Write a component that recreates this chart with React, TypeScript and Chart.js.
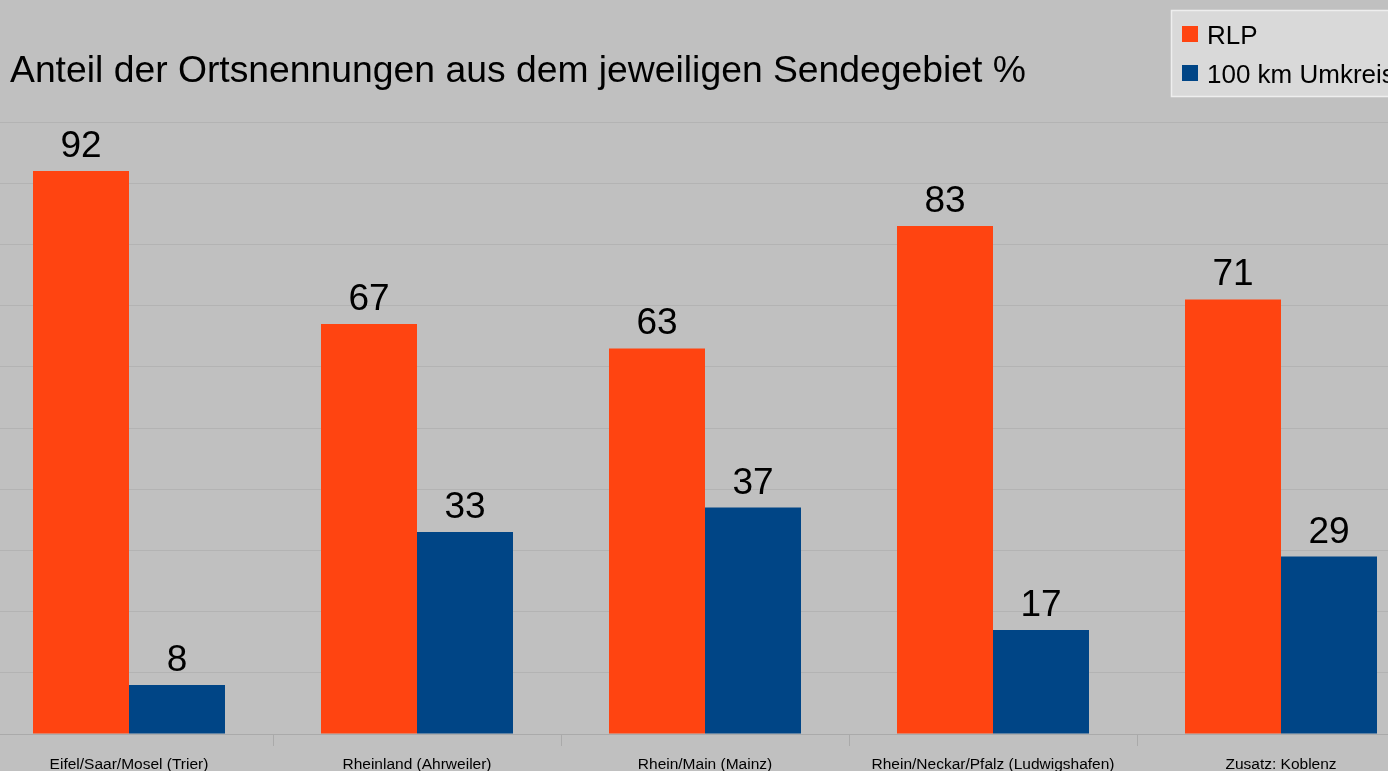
import React, { useEffect, useRef } from "react";
import { Chart, registerables } from "chart.js";

Chart.register(...registerables);

const categories = [
  "Eifel/Saar/Mosel (Trier)",
  "Rheinland (Ahrweiler)",
  "Rhein/Main (Mainz)",
  "Rhein/Neckar/Pfalz (Ludwigshafen)",
  "Zusatz: Koblenz",
];
const rlpValues = [92, 67, 63, 83, 71];
const umkreisValues = [8, 33, 37, 17, 29];
const seriesNames = ["RLP", "100 km Umkreis"];
const titleText = "Anteil der Ortsnennungen aus dem jeweiligen Sendegebiet %";

const ORANGE = "#ff4411";
const BLUE = "#004586";
const FONT = "'Liberation Sans', Arial, sans-serif";
const OFFSET = 15;

const overlayPlugin = {
  id: "overlay",
  afterDatasetsDraw(chart: any) {
    const ctx = chart.ctx;
    ctx.save();
    // data labels
    ctx.fillStyle = "#000";
    ctx.font = `37px ${FONT}`;
    ctx.textAlign = "center";
    ctx.textBaseline = "alphabetic";
    chart.data.datasets.forEach((ds: any, i: number) => {
      const meta = chart.getDatasetMeta(i);
      meta.data.forEach((bar: any, j: number) => {
        ctx.fillText(String(ds.data[j]), bar.x, bar.y - 14);
      });
    });
    // title
    ctx.textAlign = "left";
    ctx.font = `37.3px ${FONT}`;
    ctx.fillText(titleText, 10 + OFFSET, 82);
    // legend
    const lx = 1171 + OFFSET;
    const ly = 10;
    ctx.fillStyle = "#d9d9d9";
    ctx.fillRect(lx, ly, 260, 86);
    ctx.strokeStyle = "#eeeeee";
    ctx.lineWidth = 1.5;
    ctx.strokeRect(lx + 0.5, ly + 0.5, 260, 86);
    const colors = [ORANGE, BLUE];
    const rows = [44, 83];
    ctx.font = `26px ${FONT}`;
    seriesNames.forEach((name, i) => {
      ctx.fillStyle = colors[i];
      ctx.fillRect(lx + 11, rows[i] - 18, 16, 16);
      ctx.fillStyle = "#000";
      ctx.fillText(name, lx + 36, rows[i]);
    });
    ctx.restore();
  },
};

export default function App() {
  const ref = useRef<HTMLCanvasElement | null>(null);
  useEffect(() => {
    document.body.style.margin = "0";
    document.body.style.overflow = "hidden";
    const chart = new Chart(ref.current as HTMLCanvasElement, {
      type: "bar",
      data: {
        labels: categories,
        datasets: [
          { label: seriesNames[0], data: rlpValues, backgroundColor: ORANGE, borderWidth: 0 },
          { label: seriesNames[1], data: umkreisValues, backgroundColor: BLUE, borderWidth: 0 },
        ],
      },
      options: {
        responsive: false,
        animation: false,
        devicePixelRatio: 1,
        layout: { padding: { top: 122, right: 15, left: 0, bottom: 0 } },
        plugins: { legend: { display: false }, tooltip: { enabled: false }, title: { display: false } },
        datasets: { bar: { categoryPercentage: 2 / 3, barPercentage: 1 } },
        scales: {
          x: {
            grid: { drawOnChartArea: false, drawTicks: true, tickLength: 12, color: "#aaaaaa", offset: true },
            border: { display: true, color: "#aaaaaa", width: 1 },
            ticks: { color: "#000", font: { family: FONT, size: 15.5 }, padding: 9, maxRotation: 0, autoSkip: false },
            afterFit: (s: any) => { s.height = 37; },
          },
          y: {
            min: 0,
            max: 100,
            ticks: { display: false, stepSize: 10 },
            grid: { color: "#b3b3b3", drawTicks: false, lineWidth: 1 },
            border: { display: false },
            afterFit: (s: any) => { s.width = 0; },
          },
        },
      },
      plugins: [overlayPlugin],
    });
    return () => chart.destroy();
  }, []);
  return (
    <div style={{ position: "fixed", left: 0, top: 0, width: 1388, height: 771, overflow: "hidden", background: "#c0c0c0" }}>
      <canvas ref={ref} width={1455} height={771} style={{ position: "absolute", left: -OFFSET, top: 0 }} />
    </div>
  );
}
